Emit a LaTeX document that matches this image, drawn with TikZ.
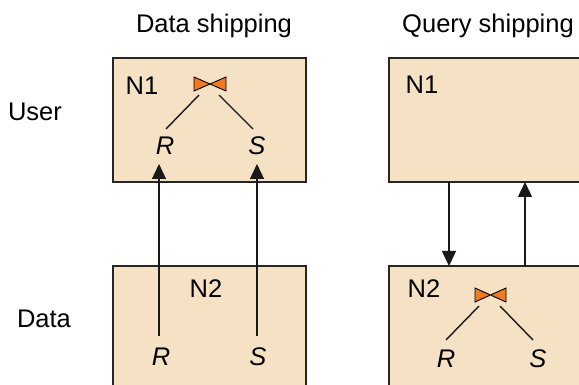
\documentclass[tikz,border=0pt]{standalone}
\usepackage{fontspec}
\setmainfont{Liberation Sans}
\usetikzlibrary{arrows.meta}
\definecolor{boxfill}{HTML}{F5E1C3}
\definecolor{joinorange}{HTML}{F07A21}
\tikzset{
  lbl/.style={font=\fontsize{25.5}{30}\selectfont, inner sep=0pt, anchor=base},
  rel/.style={font=\fontsize{25.5}{30}\selectfont\itshape, inner sep=0pt, anchor=base},
  site/.style={draw=black!85, line width=1.8pt, fill=boxfill},
  edge/.style={line width=1.4pt, black!90},
  ship/.style={line width=1.4pt, black!90, -{Triangle[length=15pt,width=14pt]}},
  bowtie/.style={fill=joinorange, draw=black, line width=0.9pt, line join=miter}
}
\begin{document}
\begin{tikzpicture}[x=1pt,y=-1pt]
\useasboundingbox (0,0) rectangle (579,385);
\clip (0,0) rectangle (579,385);
% column and row titles
\node[lbl] (tds) at (214,33) {Data shipping};
\node[lbl] (tqs) at (488,33) {Query shipping};
\node[lbl] (tuser) at (35,121) {User};
\node[lbl] (tdata) at (44,327) {Data};
% sites
\draw[site] (113,58) rectangle (306,182);
\draw[site] (113,266) rectangle (306,410);
\draw[site] (389,58) rectangle (610,182);
\draw[site] (389,266) rectangle (610,410);
% labels in sites
\node[lbl] (ln1) at (142,95) {N1};
\node[lbl] (ln2) at (206,298) {N2};
\node[lbl] (rn1) at (422,94) {N1};
\node[lbl] (rn2) at (424,298) {N2};
% data shipping: join at N1
\draw[bowtie] (194,77) -- (226,91) -- (226,77) -- (194,91) -- cycle;
\node[rel] (lr1) at (165,155) {R};
\node[rel] (ls1) at (257,155) {S};
\coordinate (ljl) at (199,95);
\coordinate (ljr) at (219,95);
\coordinate (lrt) at (166,129);
\coordinate (lst) at (253,129);
\draw[edge] (ljl) -- (lrt);
\draw[edge] (ljr) -- (lst);
\node[rel] (lr2) at (161,365) {R};
\node[rel] (ls2) at (258,365) {S};
\coordinate (a1s) at (159,336);
\coordinate (a1e) at (159,164);
\coordinate (a2s) at (257,336);
\coordinate (a2e) at (257,164);
\draw[ship] (a1s) -- (a1e);
\draw[ship] (a2s) -- (a2e);
% query shipping: join at N2
\draw[bowtie] (475,288) -- (506,302) -- (506,288) -- (475,302) -- cycle;
\coordinate (rjl) at (479,306);
\coordinate (rjr) at (500,306);
\coordinate (rrt) at (446,340);
\coordinate (rst) at (533,340);
\draw[edge] (rjl) -- (rrt);
\draw[edge] (rjr) -- (rst);
\node[rel] (rr) at (446,367) {R};
\node[rel] (rs) at (538,367) {S};
\coordinate (qd1) at (449,182);
\coordinate (qd2) at (449,266);
\coordinate (qu1) at (525,266);
\coordinate (qu2) at (525,182);
\draw[ship] (qd1) -- (qd2);
\draw[ship] (qu1) -- (qu2);
\end{tikzpicture}
\end{document}
